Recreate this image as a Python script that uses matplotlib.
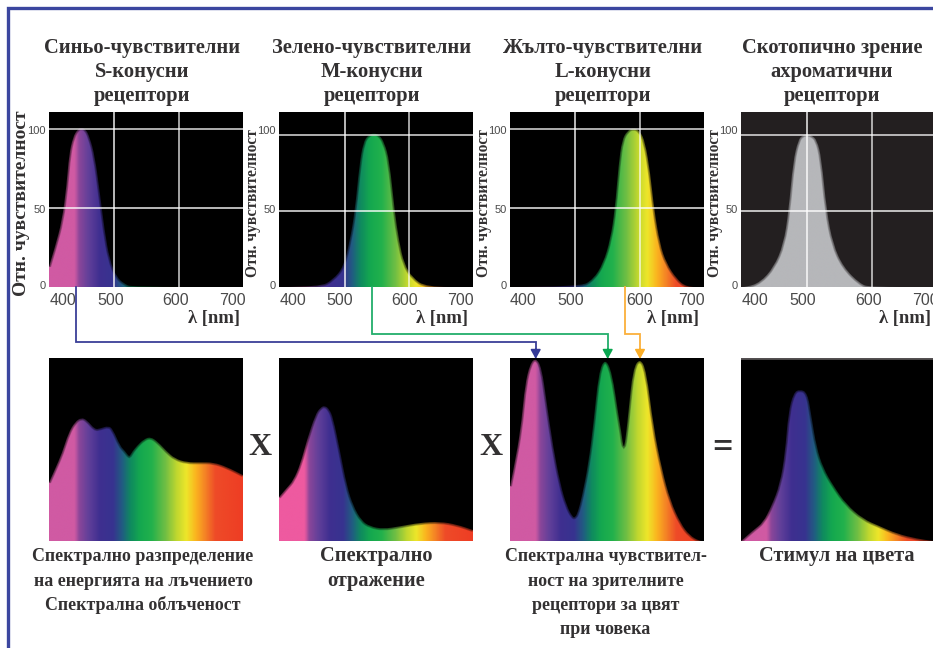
import matplotlib

matplotlib.use("Agg")
import matplotlib.pyplot as plt
import numpy as np
from matplotlib.colors import LinearSegmentedColormap
from matplotlib.patches import PathPatch
from matplotlib.path import Path

# values: wavelength [nm], relative level
s_wl = [399, 408, 419, 426, 430, 436, 443, 449, 456, 462, 470, 478, 485, 493, 504, 516, 527, 699]
s_val = [13, 25, 42, 64, 84, 95, 100, 101, 100, 95, 83, 59, 36, 17, 6, 2, 0, 0]
m_wl = [399, 461, 481, 497, 507, 515, 522, 528, 536, 545, 553, 561, 569, 577, 584, 592, 605, 626, 699]
m_val = [0, 0, 5, 13, 30, 50, 80, 95, 100, 101, 100, 95, 83, 50, 30, 15, 6, 0, 0]
l_wl = [399, 507, 528, 543, 554, 561, 567, 572, 580, 590, 600, 608, 616, 622, 631, 641, 657, 672, 699]
l_val = [0, 0, 5, 15, 30, 49, 78, 93, 99, 101, 99, 92, 72, 49, 27, 15, 5, 0, 0]
rod_wl = [399, 406, 427, 448, 463, 471, 478, 486, 492, 499, 507, 515, 522, 530, 540, 556, 582, 597, 699]
rod_val = [0, 0, 3, 13, 28, 50, 83, 97, 100, 101, 100, 97, 85, 50, 28, 13, 2, 0, 0]

irr_wl = [400, 409, 420, 430, 440, 450, 459, 471, 479, 492, 499, 510, 518, 523, 525, 529, 536, 546, 557, 569, 582, 595, 613, 634, 654, 675, 700]
irr_val = [32, 39, 48, 59, 65, 67.5, 66, 61, 61.5, 63, 61, 52, 49, 46.5, 46.5, 49, 52, 55.5, 57, 54, 49, 45, 43, 43, 43, 40.5, 36]
refl_wl = [400, 412, 422, 433, 443, 456, 464, 471, 478, 484, 494, 505, 515, 528, 541, 561, 587, 618, 649, 675, 700]
refl_val = [24, 29, 33, 42, 55, 69, 73, 74, 72, 67, 50, 30, 19, 11, 8, 6.6, 8, 10, 10.6, 9, 6]
sens_wl = [400, 410, 418, 423, 431, 440, 449, 457, 467, 478, 488, 497, 501, 505, 511, 521, 529, 537, 547, 558, 568, 572, 575, 577, 580, 583, 590, 601, 611, 622, 635, 648, 664, 678, 693, 700]
sens_val = [30, 47, 66, 85, 97, 100, 95, 75, 51, 31, 19, 13, 13, 16, 24, 42, 64, 92, 100, 92, 68, 60, 52, 52, 60, 70, 94, 100, 93, 62, 39, 22, 9.5, 3, 0, 0]
stim_wl = [400, 419, 434, 447, 460, 468, 473, 481, 491, 503, 509, 517, 527, 543, 563, 589, 615, 641, 672, 697, 700]
stim_val = [0, 6, 10, 19, 31, 48, 70, 81, 83, 81, 68, 51, 40, 30, 20, 12, 8, 4, 1.3, 0, 0]

top_titles = [
    "Синьо-чувствителни\nS-конусни\nрецептори",
    "Зелено-чувствителни\nM-конусни\nрецептори",
    "Жълто-чувствителни\nL-конусни\nрецептори",
    "Скотопично зрение\nахроматични\nрецептори",
]
bottom_titles = [
    "Спектрално разпределение\nна енергията на лъчението\nСпектрална облъченост",
    "Спектрално\nотражение",
    "Спектрална чувствител-\nност на зрителните\nрецептори за цвят\nпри човека",
    "Стимул на цвета",
]
x_tick_labels = ["400", "500", "600", "700"]
y_tick_labels = ["0", "50", "100"]

W, H = 933, 648
SERIF = "Liberation Serif"
SANS = "Liberation Sans"
TEXT_COL = "#333132"


def make_spectrum(pink):
    return LinearSegmentedColormap.from_list(
        "spectrum",
        [
            (0.0, pink),
            (0.13, pink),
            (0.155, "#8a4699"),
            (0.2, "#63409a"),
            (0.26, "#3f2f90"),
            (0.33, "#37338f"),
            (0.38, "#1f5f80"),
            (0.42, "#0f8a5f"),
            (0.47, "#14a84f"),
            (0.53, "#22b14c"),
            (0.6, "#6fbe44"),
            (0.66, "#c0d72f"),
            (0.71, "#eee62a"),
            (0.76, "#fbb31f"),
            (0.8, "#f58a25"),
            (0.86, "#ee4b28"),
            (1.0, "#ee3d24"),
        ],
    )


spectrum = make_spectrum("#d05aa3")
spectrum_bright = make_spectrum("#ee5aa0")
grey = LinearSegmentedColormap.from_list("grey", ["#b6b7ba", "#b6b7ba"])


def px_axes(fig, left, top, right, bottom, facecolor="black"):
    return fig.add_axes(
        [left / W, 1 - bottom / H, (right - left) / W, (bottom - top) / H], facecolor=facecolor
    )


def outline(wl, val):
    # quadratic pieces through the read points so the scan outline is not angular
    verts = [(wl[0], val[0])]
    codes = [Path.MOVETO]
    for i in range(1, len(wl) - 1):
        verts += [(wl[i], val[i]), ((wl[i] + wl[i + 1]) / 2, (val[i] + val[i + 1]) / 2)]
        codes += [Path.CURVE3, Path.CURVE3]
    verts.append((wl[-1], val[-1]))
    codes.append(Path.LINETO)
    return verts, codes


def draw_curve(ax, wl, val, xlim, ylim, cmap, edge="black"):
    img = ax.imshow(
        np.linspace(0, 1, 400)[None, :],
        cmap=cmap,
        extent=[xlim[0], xlim[1], ylim[0], ylim[1]],
        aspect="auto",
        interpolation="bilinear",
        zorder=1,
    )
    verts, codes = outline(wl, val)
    shape = Path(
        verts + [(wl[-1], 0), (wl[0], 0), (wl[0], 0)],
        codes + [Path.LINETO, Path.LINETO, Path.CLOSEPOLY],
    )
    clip = PathPatch(shape, facecolor="none", edgecolor="none")
    ax.add_patch(clip)
    img.set_clip_path(clip)
    # strokes on the outline give the soft edge of the scan
    for lw in [3, 2, 1]:
        ax.add_patch(
            PathPatch(Path(verts, codes), facecolor="none", edgecolor=edge, lw=lw, alpha=0.25, zorder=2)
        )
    ax.set_xlim(xlim)
    ax.set_ylim(ylim)


def top_panel(fig, left, xlim, ytop, wl, val, label_x, cmap=spectrum, facecolor="black"):
    ax = px_axes(fig, left, 112, left + 194, 287, facecolor)
    draw_curve(ax, wl, val, xlim, (0, ytop), cmap, edge=facecolor)
    ax.axvline(500, color="white", lw=1.2, alpha=0.85, zorder=3)
    ax.axvline(600, color="white", lw=1.2, alpha=0.75, zorder=3)
    ax.axhline(50, color="white", lw=1.2, alpha=0.85, zorder=3)
    ax.axhline(100, color="white", lw=1.2, alpha=0.8, zorder=3)
    ax.set_xticks(label_x, x_tick_labels, family=SANS, fontsize=11.5, color="#4a4a4a")
    # y labels stay at fixed heights in the original even if the grid moves
    ax.set_yticks([ytop * 2 / 175, ytop * 78 / 175, ytop * 157 / 175], y_tick_labels,
                  family=SANS, fontsize=8, color="#4a4a4a")
    ax.tick_params(axis="x", length=0, pad=4)
    ax.tick_params(axis="y", length=0, pad=2.5)
    for sp in ax.spines.values():
        sp.set_visible(False)
    return ax


def bottom_panel(fig, left, wl, val, cmap=spectrum):
    ax = px_axes(fig, left, 358, left + 194, 541)
    draw_curve(ax, wl, val, (400, 700), (0, 100), cmap)
    ax.set_xticks([])
    ax.set_yticks([])
    for sp in ax.spines.values():
        sp.set_visible(False)
    return ax


def label(over, x, y, txt, size=15, **kw):
    over.text(x, y, txt, family=SERIF, weight="bold", fontsize=size, color=TEXT_COL,
              ha="center", va="center", **kw)


fig = plt.figure(figsize=(W / 100, H / 100), dpi=100, facecolor="white")

top_panel(fig, 49, (399, 699), 111, s_wl, s_val, [421, 495, 595, 682])
top_panel(fig, 279, (397, 699), 115, m_wl, m_val, [419, 492, 592, 680])
top_panel(fig, 510, (399, 699), 111, l_wl, l_val, [419, 493, 599, 680])
top_panel(fig, 741, (397.5, 697.5), 115.5, rod_wl, rod_val, [419, 493, 594, 682],
          cmap=grey, facecolor="#231f20")

bottom_panel(fig, 49, irr_wl, irr_val)
bottom_panel(fig, 279, refl_wl, refl_val, cmap=spectrum_bright)
bottom_panel(fig, 510, sens_wl, sens_val)
ax4 = bottom_panel(fig, 741, stim_wl, stim_val)
ax4.axhline(100, color="#555153", lw=2, zorder=3)

# everything outside the panels lives on a full-figure overlay in pixel coordinates
over = fig.add_axes([0, 0, 1, 1], facecolor="none")
over.set_xlim(0, W)
over.set_ylim(H, 0)
over.axis("off")

over.plot([8, 8, W], [H, 8, 8], color="#3b469f", lw=2.4, solid_joinstyle="miter")

for x, title in zip([142.5, 372, 603, 832], top_titles):
    for i, line in enumerate(title.split("\n")):
        label(over, x, 47.5 + i * 24, line, size=14.8)

for x, size, title in zip([143, 376, 605.5, 837], [12.9, 14.7, 12.9, 14.7], bottom_titles):
    for i, line in enumerate(title.split("\n")):
        label(over, x, 556.5 + i * 24.5, line, size=size)

for x, size in zip([22, 253, 484, 715], [14, 11.2, 11.2, 11.2]):
    label(over, x, 203, "Отн. чувствителност", size=size, rotation=90)

for x in [214, 442.5, 673, 905]:
    label(over, x, 319, "λ [nm]", size=13.4)

label(over, 260, 447.5, "X", size=23)
label(over, 491, 447.5, "X", size=23)
label(over, 722.5, 449, "=", size=26)

for xs, ys, col in [
    ([75.5, 75.5, 535.7, 535.7], [287, 341.7, 341.7, 350], "#3a3f97"),
    ([371.8, 371.8, 607.7, 607.7], [287, 334, 334, 350], "#22ae6b"),
    ([625, 625, 640, 640], [287, 333.5, 333.5, 350], "#fbb03b"),
]:
    over.plot(xs, ys, color=col, lw=1.3, solid_joinstyle="miter")
for x, col in [(535.7, "#343a97"), (607.7, "#0aa650"), (640, "#fbae28")]:
    over.annotate("", xy=(x, 359), xytext=(x, 349),
                  arrowprops=dict(arrowstyle="-|>,head_width=0.3,head_length=0.55", color=col,
                                  lw=1.2, shrinkA=0, shrinkB=0))

fig.savefig("out.png", dpi=100)
